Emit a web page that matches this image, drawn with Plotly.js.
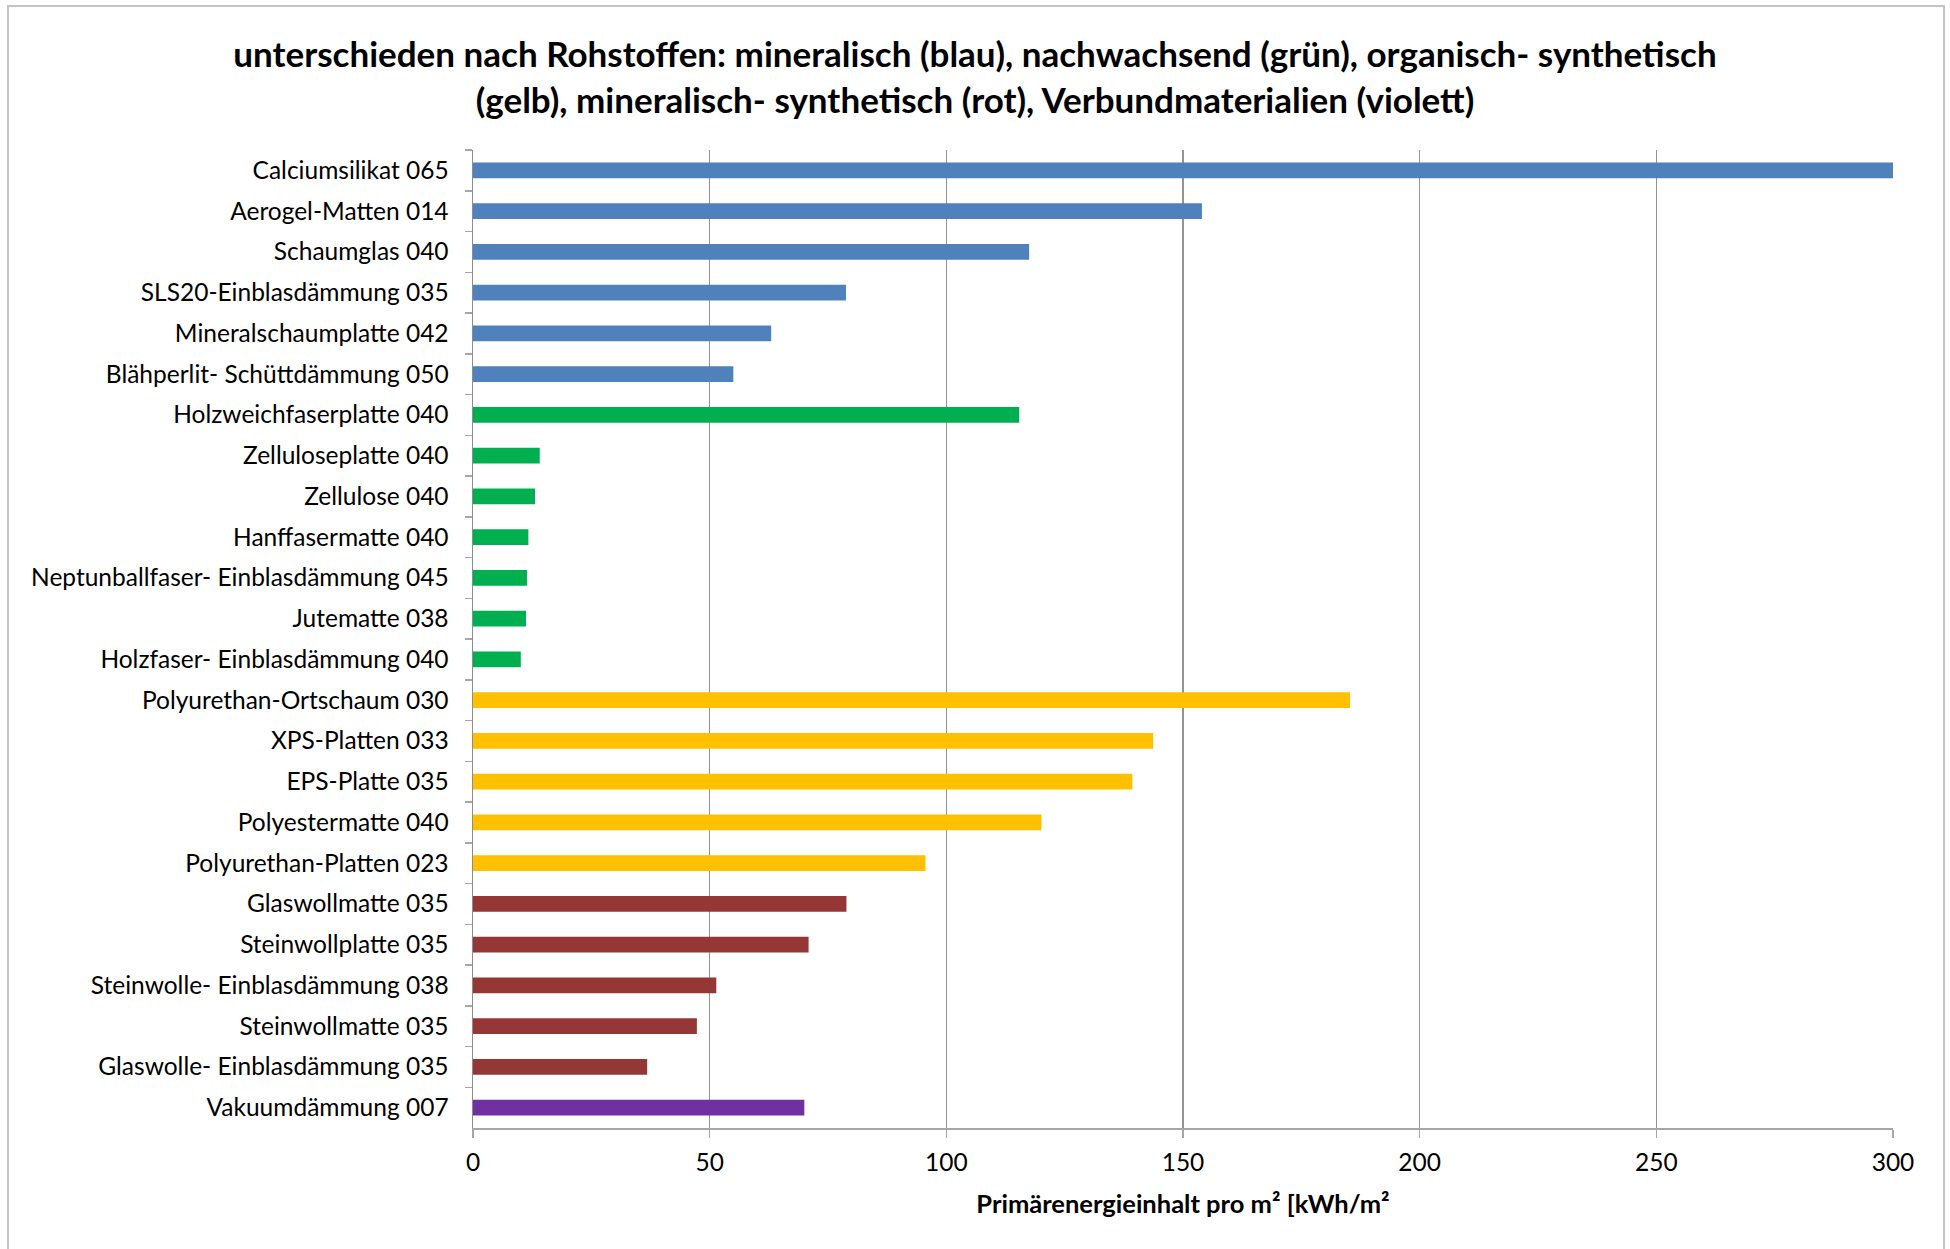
<!DOCTYPE html>
<html>
<head>
<meta charset="utf-8">
<script src="https://cdn.plot.ly/plotly-3.0.1.min.js"></script>
<style>
  html, body { margin: 0; padding: 0; background: #ffffff; }
  #wrap { position: relative; width: 1950px; height: 1249px; }
  #chart { position: absolute; left: 0; top: 0; width: 1950px; height: 1249px; }
  #frame { position: absolute; left: 7px; top: 5px; width: 1934px; height: 1250px;
           border: 2px solid #c4c4c4; border-bottom: none; pointer-events: none; }
</style>
</head>
<body>
<div id="wrap">
  <div id="chart"></div>
  <div id="frame"></div>
</div>
<script>
// ---- data (top to bottom) ----
const categories = [
  "Calciumsilikat 065",
  "Aerogel-Matten 014",
  "Schaumglas 040",
  "SLS20-Einblasdämmung 035",
  "Mineralschaumplatte 042",
  "Blähperlit- Schüttdämmung 050",
  "Holzweichfaserplatte 040",
  "Zelluloseplatte 040",
  "Zellulose 040",
  "Hanffasermatte 040",
  "Neptunballfaser- Einblasdämmung 045",
  "Jutematte 038",
  "Holzfaser- Einblasdämmung 040",
  "Polyurethan-Ortschaum 030",
  "XPS-Platten 033",
  "EPS-Platte 035",
  "Polyestermatte 040",
  "Polyurethan-Platten 023",
  "Glaswollmatte 035",
  "Steinwollplatte 035",
  "Steinwolle- Einblasdämmung 038",
  "Steinwollmatte 035",
  "Glaswolle- Einblasdämmung 035",
  "Vakuumdämmung 007"
];
const values = [
  301, 154.0, 117.5, 78.8, 63.0, 55.0,
  115.4, 14.1, 13.1, 11.7, 11.4, 11.2, 10.1,
  185.3, 143.7, 139.3, 120.1, 95.6,
  78.9, 70.9, 51.4, 47.3, 36.8,
  70.0
];
const groups = [
  "mineralisch","mineralisch","mineralisch","mineralisch","mineralisch","mineralisch",
  "nachwachsend","nachwachsend","nachwachsend","nachwachsend","nachwachsend","nachwachsend","nachwachsend",
  "organisch-synthetisch","organisch-synthetisch","organisch-synthetisch","organisch-synthetisch","organisch-synthetisch",
  "mineralisch-synthetisch","mineralisch-synthetisch","mineralisch-synthetisch","mineralisch-synthetisch","mineralisch-synthetisch",
  "Verbundmaterialien"
];
const groupColors = {
  "mineralisch": "#4f81bd",
  "nachwachsend": "#00b050",
  "organisch-synthetisch": "#ffc000",
  "mineralisch-synthetisch": "#953735",
  "Verbundmaterialien": "#7030a0"
};
const xTicks = [0, 50, 100, 150, 200, 250, 300];
const titleText = "unterschieden nach Rohstoffen: mineralisch (blau), nachwachsend (grün), organisch- synthetisch<br>(gelb), mineralisch- synthetisch (rot), Verbundmaterialien (violett)";
const xTitleText = "Primärenergieinhalt pro m² [kWh/m²";

const FONT = "Lato, 'Open Sans', sans-serif";

const trace = {
  type: "bar",
  orientation: "h",
  y: categories,
  x: values,
  marker: { color: groups.map(g => groupColors[g]), line: { width: 0 } },
  hoverinfo: "x+y",
  showlegend: false
};

const layout = {
  width: 1950,
  height: 1249,
  paper_bgcolor: "#ffffff",
  plot_bgcolor: "#ffffff",
  margin: { l: 473, r: 57, t: 150, b: 121, pad: 0 },
  bargap: 0.615,
  font: { family: FONT, color: "#000000", size: 24.5 },
  title: {
    text: titleText,
    font: { family: FONT, size: 35, color: "#000000", weight: "bold" },
    x: 0.5, xref: "container", xanchor: "center",
    y: 1 - 67 / 1249, yref: "container", yanchor: "middle"
  },
  xaxis: {
    range: [0, 300],
    tickvals: xTicks,
    ticktext: xTicks.map(String),
    showgrid: true,
    gridcolor: "#939393",
    gridwidth: 1.5,
    zeroline: false,
    showline: true,
    linecolor: "#a6a6a6",
    linewidth: 2,
    ticks: "outside",
    ticklen: 8,
    tickwidth: 1.5,
    tickcolor: "#a6a6a6",
    ticklabelstandoff: 4,
    tickfont: { family: FONT, size: 24.5, color: "#000000" },
    title: {
      text: xTitleText,
      font: { family: FONT, size: 25.5, color: "#000000", weight: "bold" },
      standoff: 20
    },
    fixedrange: true
  },
  yaxis: {
    type: "category",
    categoryorder: "array",
    categoryarray: categories,
    autorange: "reversed",
    showgrid: false,
    zeroline: false,
    showline: true,
    linecolor: "#8c8c8c",
    linewidth: 1.5,
    ticks: "outside",
    tickson: "boundaries",
    ticklen: 7,
    tickwidth: 1.5,
    tickcolor: "#a6a6a6",
    ticklabelstandoff: 18,
    tickfont: { family: FONT, size: 24.5, color: "#000000" },
    fixedrange: true
  }
};

Plotly.newPlot("chart", [trace], layout, { displayModeBar: false, staticPlot: true });
</script>
</body>
</html>
